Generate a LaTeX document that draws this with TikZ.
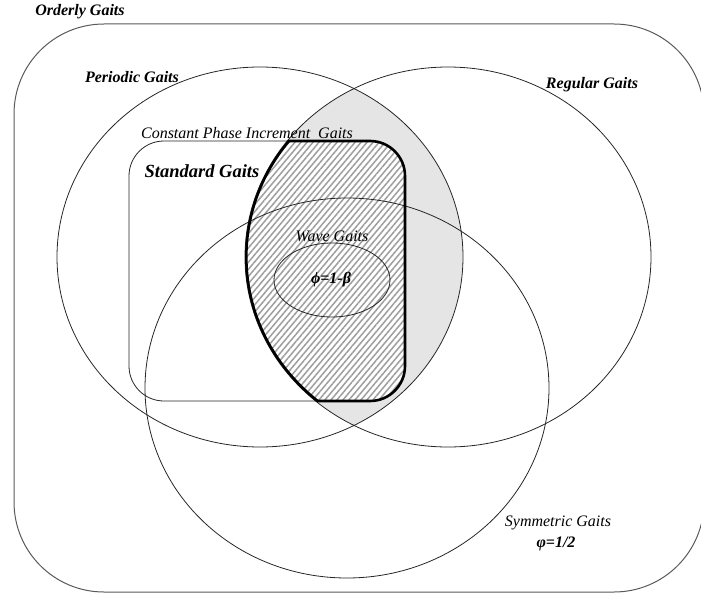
\documentclass[tikz,border=0pt]{standalone}
\usepackage{fontspec}
\setmainfont{Liberation Serif}
\usetikzlibrary{patterns.meta}

\begin{document}
\begin{tikzpicture}[x=1pt,y=-1pt,
  setline/.style={draw=black!85,line width=0.8pt},
  lbl/.style={font=\fontsize{16}{18}\selectfont\itshape,inner sep=0pt},
  blbl/.style={font=\fontsize{16}{18}\selectfont\bfseries\itshape,inner sep=0pt},
  hatch/.style={pattern={Lines[angle=50,distance=4.6pt,line width=1.5pt]},pattern color=black!38},
  lens/.style={fill=black!10}]
\useasboundingbox (0,0) rectangle (701,594);
\clip (0,0) rectangle (701,594);

% centres of the gait families
\coordinate (per) at (260,257);
\coordinate (reg) at (448,257);
\coordinate (sym) at (347,388);
\coordinate (wav) at (332,280);

% periodic and regular together: shaded lens
\begin{scope}
  \clip (per) ellipse [x radius=203, y radius=190];
  \fill[lens] (reg) ellipse [x radius=203, y radius=190];
\end{scope}

% standard gaits = constant phase increment gaits that are regular
\begin{scope}
  \clip (reg) ellipse [x radius=203, y radius=190];
  \fill[white, rounded corners=35] (129,141) rectangle (405,401);
  \fill[hatch, rounded corners=35] (129,141) rectangle (405,401);
\end{scope}

% family outlines
\draw[setline, draw=black!65, line width=1pt, rounded corners=90] (14,24) rectangle (704,592);
\draw[setline] (per) ellipse [x radius=203, y radius=190];
\draw[setline] (reg) ellipse [x radius=203, y radius=190];
\draw[setline] (sym) ellipse [x radius=202, y radius=190];
\draw[setline, rounded corners=35] (129,141) rectangle (405,401);
\draw[setline] (wav) ellipse [x radius=58, y radius=37];

% bold boundary of the standard gaits
\begin{scope}
  \clip (reg) ellipse [x radius=203, y radius=190];
  \draw[line width=2.6pt, rounded corners=35] (129,141) rectangle (405,401);
\end{scope}
\begin{scope}
  \clip[rounded corners=35] (129,141) rectangle (405,401);
  \clip (reg) ellipse [x radius=203, y radius=190];
  \draw[line width=5.2pt] (reg) ellipse [x radius=203, y radius=190];
\end{scope}

% labels
\node[blbl] (orderly) at (80,12) {Orderly Gaits};
\node[blbl] (periodic) at (132,77) {Periodic Gaits};
\node[blbl] (regular) at (592,85) {Regular Gaits};
\node[lbl] (cpi) at (247,133) {Constant Phase Increment~ Gaits};
\node[font=\fontsize{18.5}{20}\selectfont\bfseries\itshape,inner sep=0pt] (standard) at (202,171) {Standard Gaits};
\node[lbl] (wave) at (332,236) {Wave Gaits};
\node[blbl] (wavephi) at (331,280) {ϕ=1-β};
\node[lbl] (symmetric) at (558,523) {Symmetric Gaits};
\node[blbl] (symphi) at (556,544) {φ=1/2};
\end{tikzpicture}
\end{document}
